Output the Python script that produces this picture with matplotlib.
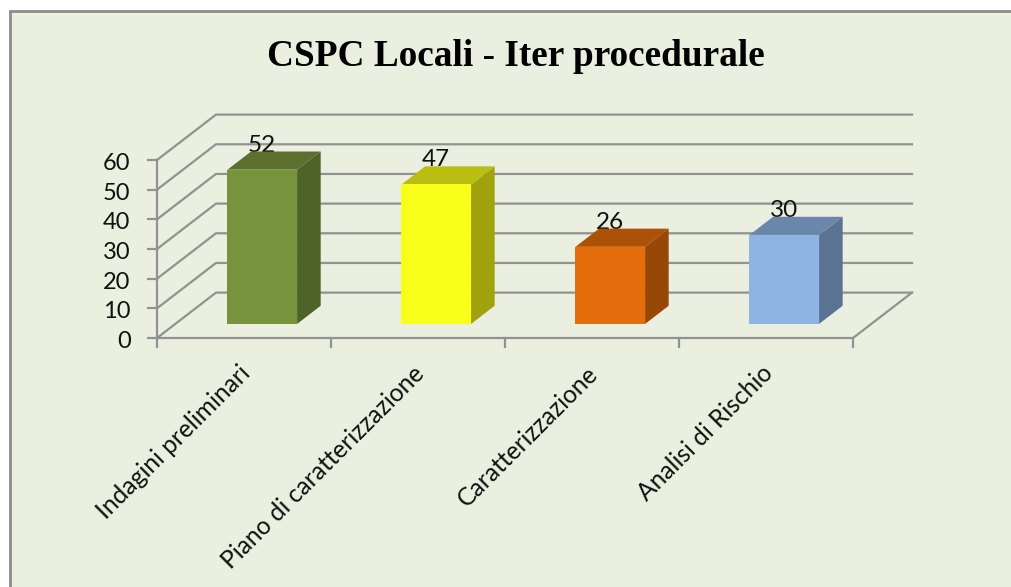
#!/usr/bin/env python
import matplotlib
matplotlib.use("Agg")
import matplotlib.pyplot as plt
from matplotlib.patches import Polygon, Rectangle

categories = ["Indagini preliminari", "Piano di caratterizzazione", "Caratterizzazione", "Analisi di Rischio"]
values = [52, 47, 26, 30]
yticks = [0, 10, 20, 30, 40, 50, 60]
front_colors = ["#77933c", "#f9ff1a", "#e46c0a", "#8eb4e3"]
top_colors = ["#5d6f2d", "#b9bf10", "#ab5108", "#6a87ab"]
side_colors = ["#4f6228", "#a0a30e", "#974806", "#5b7393"]

W, H = 1011, 587
GRID = "#929292"
DX, DY = 0.339, 15.3  # floor depth in data units
BAR_W, D0, D1 = 0.4, 0.31, 0.71


def proj(x, v, d=0.0):
    return (x + d * DX, v + d * DY)


fig = plt.figure(figsize=(W / 100, H / 100), dpi=100, facecolor="white")

# chart area with border, runs off the right and bottom of the picture
fig.add_artist(Rectangle((9.5 / W, -5 / H), 1010 / W, (H - 11 + 5) / H, transform=fig.transFigure,
                         facecolor="#ebefdf", edgecolor="#8c8c8c", linewidth=2, zorder=-1))

# axes placed so 0..4 runs 157..853 px and 0..60 runs 338..160 px
ax = fig.add_axes([157 / W, (H - 338) / H, 696 / W, 178 / H])
ax.set_xlim(0, 4)
ax.set_ylim(0, 60)
ax.axis("off")

# walls and floor
for v in yticks:
    xs, ys = zip(proj(0, v), proj(0, v, 1), proj(4, v, 1))
    ax.plot(xs, ys, color=GRID, lw=1.6, clip_on=False, solid_joinstyle="miter")
xs, ys = zip(proj(0, 0), proj(4, 0), proj(4, 0, 1))
ax.plot(xs, ys, color=GRID, lw=1.6, clip_on=False)
ax.plot([0, 0], [0, 60], color=GRID, lw=1.6, clip_on=False)

# ticks
for v in yticks:
    ax.plot([-0.05, 0], [v, v], color=GRID, lw=1.6, clip_on=False)
    ax.annotate(str(v), xy=(0, v), xytext=(-19, -2.5), textcoords="offset points", ha="right", va="center",
                fontsize=17, family="Lato", color="#111111", annotation_clip=False)
for i in range(5):
    ax.plot([i, i], [0, -3], color=GRID, lw=1.6, clip_on=False)

# bars
for i, (v, fc, tc, sc) in enumerate(zip(values, front_colors, top_colors, side_colors)):
    left = i + 0.5 - BAR_W / 2
    right = left + BAR_W
    front = [proj(left, 0, D0), proj(right, 0, D0), proj(right, v, D0), proj(left, v, D0)]
    top = [proj(left, v, D0), proj(right, v, D0), proj(right, v, D1), proj(left, v, D1)]
    side = [proj(right, 0, D0), proj(right, 0, D1), proj(right, v, D1), proj(right, v, D0)]
    ax.add_patch(Polygon(side, facecolor=sc, edgecolor="none", clip_on=False, zorder=3))
    ax.add_patch(Polygon(top, facecolor=tc, edgecolor="none", clip_on=False, zorder=3))
    ax.add_patch(Polygon(front, facecolor=fc, edgecolor="none", clip_on=False, zorder=3))
    lx, ly = proj(i + 0.5, v, D1)
    ax.text(lx - 0.138, ly, str(v), ha="center", va="baseline", fontsize=17.5, family="Lato",
            color="#111111", zorder=2)

# category labels
for i, c in enumerate(categories):
    ax.annotate(c, xy=(i + 0.5, 0), xytext=(-4, -17), textcoords="offset points", rotation=45,
                rotation_mode="anchor", ha="right", va="top", fontsize=17.7, family="Lato",
                color="#111111", annotation_clip=False)

fig.text(516 / W, 1 - 57 / H, "CSPC Locali - Iter procedurale", ha="center", va="center", fontsize=26.8,
         fontweight="bold", family="Liberation Serif", color="black")

fig.savefig("out.png", dpi=100)
